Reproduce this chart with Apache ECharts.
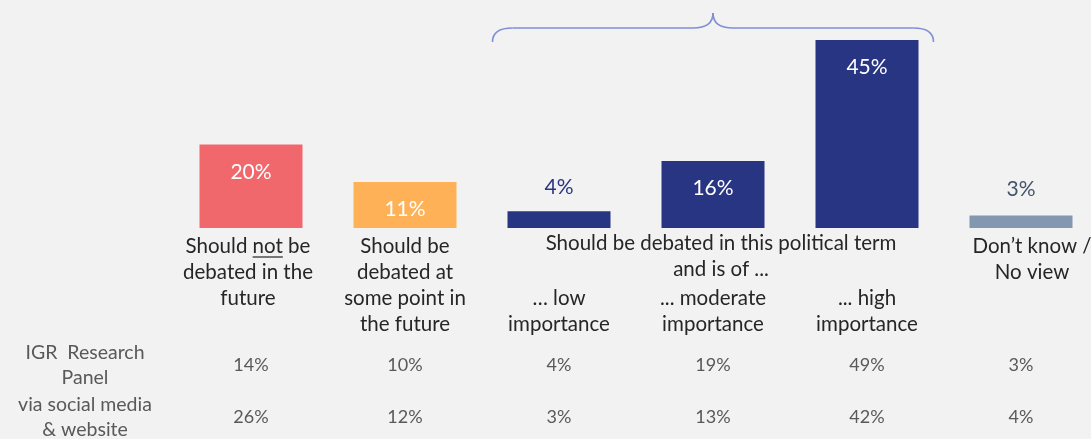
<!DOCTYPE html>
<html>
<head>
<meta charset="utf-8">
<script src="https://cdn.jsdelivr.net/npm/echarts@6/dist/echarts.min.js"></script>
<style>
  html, body { margin: 0; padding: 0; background: #f2f2f2; }
  #chart { width: 1091px; height: 439px; }
</style>
</head>
<body>
<div id="chart"></div>
<script>
// ---- data ----
const categories = [
  'Should not be\ndebated in the\nfuture',
  'Should be\ndebated at\nsome point in\nthe future',
  '\n\n\u2026 low\nimportance',
  '\n\n... moderate\nimportance',
  '\n\n... high\nimportance',
  'Don\u2019t know /\nNo view'
];
const mainValues = [20, 11, 4, 16, 45, 3];
const barColors = ['#f0686c', '#ffb157', '#283583', '#283583', '#283583', '#8497b0'];
const panelValues = [14, 10, 4, 19, 49, 3];
const socialValues = [26, 12, 3, 13, 42, 4];
const rowLabels = ['IGR  Research\nPanel', 'via social media\n& website'];
const groupHeader = 'Should be debated in this political term\nand is of ...';

const FONT = 'Lato';
const FS = 20.5;
const chart = echarts.init(document.getElementById('chart'));

const seriesData = mainValues.map((v, i) => {
  const small = v < 8;
  return {
    value: v,
    itemStyle: { color: barColors[i] },
    label: small ? {
      position: 'top', distance: i === 5 ? 16 : 14,
      color: i === 5 ? '#44546a' : '#283583'
    } : {
      position: 'insideTop', distance: 17, color: '#ffffff'
    }
  };
});

const catData = categories.map((c, i) => i === 5
  ? { value: c, textStyle: { padding: [0, 0, 0, 22] } }
  : (i === 0 ? { value: c, textStyle: { padding: [0, 6, 0, 0] } } : c));

chart.setOption({
  backgroundColor: '#f2f2f2',
  animation: false,
  grid: { left: 251, right: 70, top: 19, bottom: 211, containLabel: false, outerBoundsMode: 'none' },
  xAxis: {
    type: 'category',
    data: catData,
    boundaryGap: false,
    axisLine: { show: false },
    axisTick: { show: false },
    axisLabel: {
      interval: 0,
      margin: 5,
      verticalAlign: 'top',
      fontFamily: FONT,
      fontSize: FS,
      lineHeight: 26,
      color: '#262626'
    }
  },
  yAxis: { type: 'value', min: 0, max: 50, show: false, splitLine: { show: false } },
  series: [{
    type: 'bar',
    barWidth: 103,
    data: seriesData,
    label: {
      show: true,
      fontFamily: FONT,
      fontSize: 21,
      formatter: p => p.value + '%'
    }
  }]
});

function measure(t) {
  const c = document.createElement('canvas').getContext('2d');
  c.font = FS + 'px ' + FONT;
  return c.measureText(t).width;
}

function layoutGraphics() {
  const px = i => chart.convertToPixel({ xAxisIndex: 0 }, i);
  const half = 51.5;
  const rowY = [365, 417];
  const elems = [];
  elems.push({
    type: 'text',
    x: px(3) + 8, y: 230,
    style: {
      text: groupHeader, fontFamily: FONT, fontSize: FS, lineHeight: 26,
      fill: '#262626', align: 'center', verticalAlign: 'top'
    }
  });
  // underline under "not"
  const full = measure('Should not be');
  const ux1 = px(0) - 3 - full / 2 + measure('Should ');
  const ux2 = ux1 + measure('not');
  elems.push({
    type: 'line',
    shape: { x1: ux1, y1: 257, x2: ux2, y2: 257 },
    style: { stroke: '#262626', lineWidth: 1.2 }
  });
  // bracket
  const L = px(2) - half - 15, R = px(4) + half + 15, M = px(3);
  const yb = 28, ye = 42, yp = 13;
  const bs = { stroke: '#7f8fd6', lineWidth: 1.6, fill: null };
  const curves = [
    [L, ye, L + 20, yb, L, yb],
    [M - 20, yb, M, yp, M, yb],
    [M, yp, M + 20, yb, M, yb],
    [R - 20, yb, R, ye, R, yb]
  ];
  curves.forEach(c => elems.push({
    type: 'bezierCurve',
    shape: { x1: c[0], y1: c[1], x2: c[2], y2: c[3], cpx1: c[4], cpy1: c[5] },
    style: bs
  }));
  elems.push({ type: 'line', shape: { x1: L + 20, y1: yb, x2: M - 20, y2: yb }, style: bs });
  elems.push({ type: 'line', shape: { x1: M + 20, y1: yb, x2: R - 20, y2: yb }, style: bs });
  // table
  [panelValues, socialValues].forEach((arr, r) => {
    elems.push({
      type: 'text', x: 85, y: rowY[r],
      style: {
        text: rowLabels[r], fontFamily: FONT, fontSize: 19.5, lineHeight: 25,
        fill: '#595959', align: 'center', verticalAlign: 'middle'
      }
    });
    arr.forEach((v, i) => {
      elems.push({
        type: 'text', x: px(i), y: rowY[r],
        style: {
          text: v + '%', fontFamily: FONT, fontSize: 18,
          fill: '#595959', align: 'center', verticalAlign: 'middle'
        }
      });
    });
  });
  chart.setOption({ graphic: elems });
}
layoutGraphics();
</script>
</body>
</html>
